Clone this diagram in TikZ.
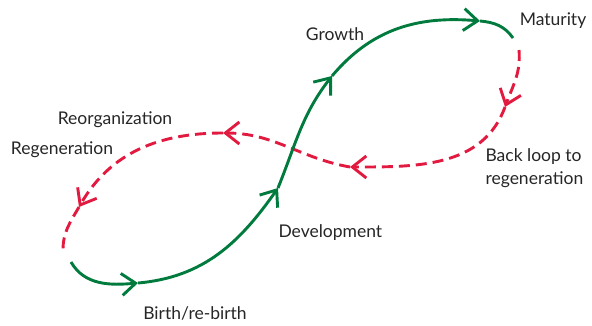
\documentclass[tikz,border=0pt]{standalone}
\usepackage{fontspec}
\setmainfont{Lato}
\usetikzlibrary{arrows.meta}
\definecolor{cyclegreen}{RGB}{0,122,61}
\definecolor{cyclered}{RGB}{226,26,64}
\begin{document}
\begin{tikzpicture}[x=1pt,y=1pt,
    forward/.style={cyclegreen,line width=2.9pt},
    back/.style={cyclered,line width=2.9pt,dash pattern=on 11pt off 6pt},
    tip/.style={-{Straight Barb[length=14pt,width=22pt]}},
    lbl/.style={font=\fontsize{17.5}{23}\selectfont,text=black!85}]
    \useasboundingbox (0,0) rectangle (592,325);
    %% points on the front loop
    \coordinate (g0) at (71,63);
    \coordinate (g1) at (138,42);
    \coordinate (g2) at (278,137);
    \coordinate (g3) at (332,249);
    \coordinate (g4) at (480,304);
    \coordinate (g5) at (513,287);
    %% points on the back loop
    \coordinate (r0) at (519,275);
    \coordinate (r1) at (505,218);
    \coordinate (r2) at (350,158);
    \coordinate (r3) at (223,192);
    \coordinate (r4) at (79,118);
    \coordinate (r5) at (63,75);
    %% back loop
    \draw[back,tip] (r0) to[out=-85,in=70] (r1);
    \draw[back,tip] (r1) to[out=-110,in=0] (r2);
    \draw[back,tip] (r2) to[out=170,in=0] (r3);
    \draw[back,tip] (r3) to[out=180,in=60] (r4);
    \draw[back] (r4) to[out=-120,in=90] (r5);
    %% front loop
    \draw[forward,tip] (g0) to[out=-60,in=185] (g1);
    \draw[forward,tip] (g1) to[out=5,in=235] (g2);
    \draw[forward,tip] (g2) to[out=68,in=232] (g3);
    \draw[forward,tip] (g3) to[out=50,in=175] (g4);
    \draw[forward] (g4) to[out=-5,in=125] (g5);
    %% labels
    \node[lbl] (growth) at (335,291) {Growth};
    \node[lbl] (maturity) at (553,304) {Maturity};
    \node[lbl,align=left,anchor=west] (backloop) at (482,157) {Back loop to\\regeneration};
    \node[lbl] (reorg) at (115,205) {Reorganization};
    \node[lbl] (regen) at (62,175) {Regeneration};
    \node[lbl] (birth) at (195,12) {Birth/re-birth};
    \node[lbl,anchor=west] (develop) at (275,92) {Development};
\end{tikzpicture}
\end{document}
